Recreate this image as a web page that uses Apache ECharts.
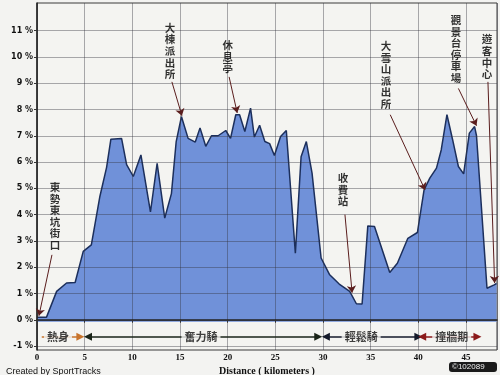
<!DOCTYPE html>
<html><head><meta charset="utf-8">
<script src="https://cdn.jsdelivr.net/npm/echarts@6/dist/echarts.min.js"></script>
<style>html,body{margin:0;padding:0;background:#f3f3f1}#c{width:500px;height:375px}</style>
</head><body><div id="c"></div>
<script>
// ---- data ----
const distanceKm = [0, 1.0, 2.06, 3.1, 4.0, 4.85, 5.7, 6.6, 7.3, 7.75, 8.87, 9.4, 10.1, 10.9, 11.9, 12.6, 13.4, 14.1, 14.6, 15.15, 15.85, 16.6, 17.1, 17.7, 18.3, 19.0, 19.8, 20.3, 20.85, 21.25, 21.8, 22.4, 22.8, 23.35, 23.9, 24.4, 24.9, 25.55, 26.15, 27.1, 27.7, 28.25, 28.85, 29.8, 30.7, 31.7, 32.8, 33.5, 34.1, 34.7, 35.4, 37.0, 37.8, 38.9, 39.9, 40.6, 41.2, 41.9, 42.4, 43.0, 43.6, 44.2, 44.75, 45.35, 45.9, 46.1, 47.2, 47.95, 48.2];
const gradePct = [0.1, 0.1, 1.08, 1.4, 1.42, 2.6, 2.85, 4.7, 5.8, 6.87, 6.9, 5.9, 5.45, 6.27, 4.1, 5.95, 3.87, 4.8, 6.78, 7.73, 6.9, 6.76, 7.3, 6.6, 7.0, 7.0, 7.2, 6.9, 7.8, 7.8, 7.16, 8.05, 6.95, 7.4, 6.78, 6.7, 6.25, 6.97, 7.2, 2.53, 6.2, 6.78, 5.58, 2.35, 1.71, 1.36, 1.08, 0.61, 0.6, 3.57, 3.55, 1.8, 2.15, 3.1, 3.32, 4.94, 5.39, 5.77, 6.46, 7.8, 6.84, 5.83, 5.55, 7.1, 7.35, 7.0, 1.2, 1.33, 1.38];
const yTickValues = [-1, 0, 1, 2, 3, 4, 5, 6, 7, 8, 9, 10, 11];
const annoNames = ['東勢東坑街口', '大棟派出所', '休息亭', '收費站', '大雪山派出所', '觀景台停車場', '遊客中心'];
const annoTargetKm = [0.2, 15.2, 21.0, 33.05, 40.7, 46.1, 48.0];
const annoTargetPct = [0.15, 7.76, 7.87, 1.03, 4.94, 7.38, 1.4];
const phaseNames = ['熱身', '奮力騎', '輕鬆騎', '撞牆期'];
const phaseStartKm = [0.5, 5.35, 30.3, 40.4];
const phaseEndKm = [4.55, 29.5, 40.0, 46.2];

// ---- layout (label placement) ----
const annoLabelAt = [[1.9, 3.95], [13.95, 10.22], [20.0, 10.0], [32.1, 4.94], [36.6, 9.31], [43.95, 10.3], [47.2, 10.0]];
const annoArrowFrom = [[1.57, 2.47], [14.15, 9.05], [20.15, 9.24], [32.3, 4.0], [37.05, 7.8], [44.2, 8.8], [47.3, 9.05]];
const phaseLabelKm = [2.2, 17.2, 34.0, 43.5];
const phaseY = -0.65;
const phaseColors = ['#c8742c', '#1a2418', '#141a2a', '#8b1a1a'];
const phaseSymbols = [['none', 'triangle'], ['triangle', 'triangle'], ['triangle', 'triangle'], ['triangle', 'triangle']];

const lineData = distanceKm.map((d, i) => [d, gradePct[i]]);
const annoData = annoNames.map((n, i) => ({ value: [annoLabelAt[i][0], annoLabelAt[i][1]], name: n }));
const annoLines = annoNames.map((n, i) => [{ coord: annoArrowFrom[i] }, { coord: [annoTargetKm[i], annoTargetPct[i]] }]);
const phaseData = phaseNames.map((n, i) => ({ value: [phaseLabelKm[i], phaseY], name: n }));
const phaseLines = phaseNames.map((n, i) => [
  { coord: [phaseStartKm[i], phaseY], symbol: phaseSymbols[i][0], lineStyle: { color: phaseColors[i] } },
  { coord: [phaseEndKm[i], phaseY], symbol: phaseSymbols[i][1] }
]);

const chart = echarts.init(document.getElementById('c'), null, { renderer: 'canvas' });
chart.setOption({
  animation: false,
  backgroundColor: '#f3f3f1',
  title: {
    text: 'Created by SportTracks', left: 1, top: 362,
    textStyle: { fontSize: 9, fontWeight: 'normal', color: '#111', fontFamily: 'Liberation Sans' }
  },
  grid: {
    left: 37, right: 3, top: 3, bottom: 25, outerBoundsMode: 'none', containLabel: false,
    show: true, backgroundColor: '#f4f4f1', borderColor: '#3a3a3a', borderWidth: 1
  },
  xAxis: {
    type: 'value', min: 0, max: 48.25, interval: 5, z: 3,
    name: 'Distance ( kilometers )', nameLocation: 'middle', nameGap: 15,
    nameTextStyle: { fontSize: 10, fontWeight: 'bold', color: '#111', fontFamily: 'Liberation Serif' },
    axisLine: { lineStyle: { color: '#222', width: 1.5 } },
    axisTick: { show: true, length: 3, lineStyle: { color: '#333' } },
    axisLabel: { fontSize: 9, fontWeight: 'bold', color: '#111', margin: 3, fontFamily: 'Liberation Serif',
      showMaxLabel: false },
    splitLine: { show: true, lineStyle: { color: 'rgba(50,50,60,0.4)', width: 1 } }
  },
  yAxis: {
    type: 'value', min: -1.15, max: 12.05, z: 3,
    name: 'Grade', nameLocation: 'middle', nameGap: 27,
    nameTextStyle: { fontSize: 9, fontWeight: 'bold', color: '#111', fontFamily: 'DejaVu Sans' },
    axisLine: { show: true, lineStyle: { color: '#222', width: 1.5 } },
    axisTick: { show: true, length: 3, customValues: yTickValues, lineStyle: { color: '#333' } },
    axisLabel: { customValues: yTickValues, formatter: v => v + ' %', fontSize: 8, fontWeight: 'bold',
      color: '#111', margin: 4, fontFamily: 'DejaVu Sans' },
    splitLine: { show: true, lineStyle: { color: 'rgba(50,50,60,0.4)', width: 1 } }
  },
  series: [
    {
      type: 'line', data: lineData, symbol: 'none', z: 2,
      lineStyle: { color: '#1c2f5c', width: 1.5 },
      areaStyle: { color: '#7091d9', opacity: 1, origin: -0.08 }
    },
    {
      type: 'scatter', data: annoData, symbolSize: 0, z: 6, silent: true,
      label: {
        show: true, position: 'inside', color: '#000', fontSize: 10.5, lineHeight: 11.6, fontWeight: 'bold',
        fontFamily: 'Noto Sans CJK TC',
        formatter: p => p.name.split('').join('\n')
      },
      markLine: {
        silent: true, symbol: ['none', 'arrow'], symbolSize: 7,
        label: { show: false },
        lineStyle: { color: '#5a1d1d', width: 1, type: 'solid' },
        data: annoLines
      }
    },
    {
      type: 'scatter', data: phaseData, symbolSize: 0, z: 6, silent: true,
      label: {
        show: true, position: 'inside', color: '#111', fontSize: 11, fontWeight: 'bold',
        fontFamily: 'Noto Sans CJK TC', backgroundColor: '#f4f4f1', padding: [0, 3],
        formatter: p => p.name
      },
      markLine: {
        silent: true, symbolSize: 8,
        label: { show: false },
        lineStyle: { width: 1.5, type: 'solid' },
        data: phaseLines
      }
    }
  ],
  graphic: [
    { type: 'rect', left: 449, top: 362, shape: { width: 48, height: 10, r: 3 }, style: { fill: '#1a1a1a' } },
    { type: 'text', left: 452, top: 363, style: { text: '©102089', fill: '#eee', fontSize: 8, fontFamily: 'Liberation Sans' } }
  ]
});
</script></body></html>
